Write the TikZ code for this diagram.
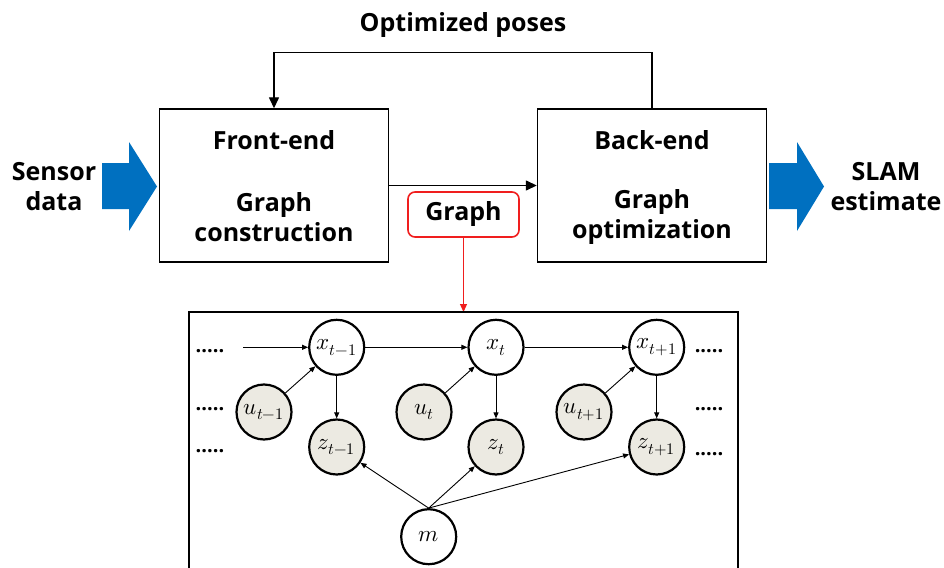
\documentclass[tikz,border=0pt]{standalone}
\usepackage{unicode-math}
\setmainfont{Open Sans}
\setmathfont{Latin Modern Math}
\usetikzlibrary{arrows.meta}
\definecolor{flowblue}{HTML}{0070C0}
\definecolor{obsfill}{HTML}{ECEAE2}
\definecolor{graphred}{HTML}{F01E1E}

\begin{document}
\begin{tikzpicture}[x=1pt,y=-1pt,
  lbl/.style={font=\fontsize{25}{30}\selectfont\bfseries, align=center, inner sep=0pt},
  stage/.style={draw, line width=1.4pt, minimum width=229pt, minimum height=153pt, inner sep=0pt},
  var/.style={circle, draw, line width=2.2pt, minimum size=55pt, inner sep=0pt,
              font=\fontsize{23}{27}\selectfont, fill=white},
  obs/.style={var, fill=obsfill},
  flow/.style={line width=1.4pt, -{Triangle[length=11pt,width=10pt]}},
  edge/.style={line width=0.9pt, -{Triangle[length=6pt,width=5pt]}},
  dots/.style={font=\fontsize{20}{20}\selectfont\bfseries, anchor=base, inner sep=0pt}
]
\useasboundingbox (0,0) rectangle (944,567);

% processing stages
\node[stage] (fe) at (274,185.5) {};
\node[stage] (be) at (652,185.5) {};
\node[lbl] (fetitle) at (274,140) {Front-end};
\node[lbl] (fetask) at (274,217) {Graph\\construction};
\node[lbl] (betitle) at (652,140) {Back-end};
\node[lbl] (betask) at (652,217) {Graph\\optimization};

% input and output
\fill[flowblue] (102,163) -- (129,163) -- (129,142) -- (157,186.5) -- (129,231)
  -- (129,209) -- (102,209) -- cycle;
\fill[flowblue] (769,163) -- (797,163) -- (797,142) -- (824,186.5) -- (797,231)
  -- (797,209) -- (769,209) -- cycle;
\node[lbl] (sensor) at (54,187) {Sensor\\data};
\node[lbl] (slam) at (886,187) {SLAM\\estimate};

% feedback and forward links
\node[lbl] (poses) at (463,25) {Optimized poses};
\draw[flow] (be.north) -- ++(0,-56) -| (fe.north);
\draw[flow] (fe.east) -- (be.west);

% graph handed to the back-end
\node[lbl, draw=graphred, line width=1.6pt, rounded corners=7pt,
      minimum width=111pt, minimum height=45pt] (graph) at (463.5,214.5) {Graph};
\coordinate (frametop) at (463.5,312);
\draw[graphred, line width=1.2pt, -{Triangle[length=8pt,width=7pt]}] (graph.south) -- (frametop);

% factor graph panel
\draw[line width=1.2pt] (189,568) -- (189,312) -- (738,312) -- (738,568);

\node[var] (xa) at (336.7,347.3) {$x_{t-1}$};
\node[var] (xb) at (496,347.3) {$x_t$};
\node[var] (xc) at (656.7,347.3) {$x_{t+1}$};
\node[obs] (ua) at (264,412) {$u_{t-1}$};
\node[obs] (ub) at (424,412) {$u_t$};
\node[obs] (uc) at (584,412) {$u_{t+1}$};
\node[obs] (za) at (336.7,447) {$z_{t-1}$};
\node[obs] (zb) at (496,447) {$z_t$};
\node[obs] (zc) at (656.7,447) {$z_{t+1}$};
\node[var] (m) at (428.7,536.7) {$m$};

\coordinate (inx) at (243,347.3);
\draw[edge] (inx) -- (xa);
\draw[edge] (xa) -- (xb);
\draw[edge] (xb) -- (xc);
\draw[edge] (ua) -- (xa);
\draw[edge] (ub) -- (xb);
\draw[edge] (uc) -- (xc);
\draw[edge] (xa) -- (za);
\draw[edge] (xb) -- (zb);
\draw[edge] (xc) -- (zc);
\draw[edge] (m.north) -- (za);
\draw[edge] (m.north) -- (zb);
\draw[edge] (m.north) -- (zc);

\node[dots] (dl1) at (210,352) {.....};
\node[dots] (dl2) at (210,410) {.....};
\node[dots] (dl3) at (210,452) {.....};
\node[dots] (dr1) at (709,352) {.....};
\node[dots] (dr2) at (709,410) {.....};
\node[dots] (dr3) at (709,455) {.....};
\end{tikzpicture}
\end{document}
